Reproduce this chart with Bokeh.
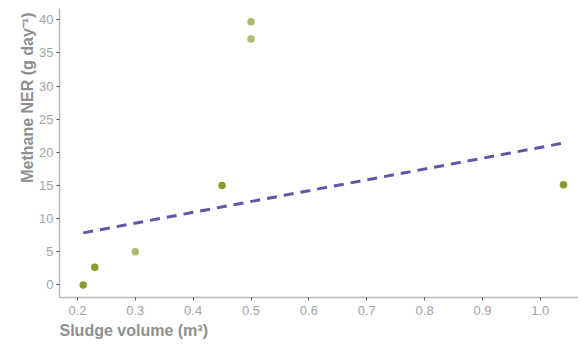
from bokeh.plotting import figure
from bokeh.models import Range1d, Title, FixedTicker
from bokeh.embed import file_html
from bokeh.resources import INLINE

# Observations (sludge volume m3, methane NER g/day)
vol_dark = [0.21, 0.23, 0.45, 1.04]
ner_dark = [0.0, 2.65, 15.0, 15.1]
vol_light = [0.30, 0.50, 0.50]
ner_light = [5.0, 39.7, 37.1]

# Trend line
trend_x = [0.21, 1.04]
trend_y = [7.85, 21.4]

x_ticks = [0.2, 0.3, 0.4, 0.5, 0.6, 0.7, 0.8, 0.9, 1.0]
y_ticks = [0, 5, 10, 15, 20, 25, 30, 35, 40]

GREY = "#8f8f8f"
FONT = "Liberation Sans"

p = figure(width=578, height=340, output_backend="svg", toolbar_location=None,
           x_range=Range1d(0.169, 1.066), y_range=Range1d(-1.9, 41.7),
           min_border_left=59, min_border_right=0, min_border_top=8, min_border_bottom=0)
p.outline_line_color = None
p.grid.grid_line_color = None
p.background_fill_color = "white"

for ax in (p.xaxis[0], p.yaxis[0]):
    ax.axis_line_color = "#b5b5b5"
    ax.axis_line_width = 1.5
    ax.major_tick_line_color = "#555555"
    ax.major_tick_in = 0
    ax.major_tick_out = 3
    ax.minor_tick_line_color = None
    ax.major_label_text_color = "#a3a3a3"
    ax.major_label_text_font = FONT
    ax.major_label_text_font_size = "13px"

p.xaxis.ticker = FixedTicker(ticks=x_ticks)
p.yaxis.ticker = FixedTicker(ticks=y_ticks)
p.xaxis.major_label_overrides = {t: f"{t:.1f}" for t in x_ticks}
p.xaxis.major_label_standoff = 5
p.yaxis.major_label_standoff = 3

p.add_layout(Title(text="Sludge volume (m³)", align="left", text_color=GREY,
                   text_font=FONT, text_font_size="16px", text_font_style="bold",
                   offset=0, standoff=4), "below")
p.add_layout(Title(text="Methane NER (g day⁻¹)", align="right", text_color=GREY,
                   text_font=FONT, text_font_size="16px", text_font_style="bold",
                   offset=4, standoff=2), "left")

p.line(trend_x, trend_y, line_color="#6554a8", line_width=3, line_dash="10 7")
p.scatter(vol_light, ner_light, size=7.5, fill_color="#abbc70", line_color=None)
p.scatter(vol_dark, ner_dark, size=7.5, fill_color="#8a9b2e", line_color=None)

open("out.html", "w").write(file_html(p, INLINE))
